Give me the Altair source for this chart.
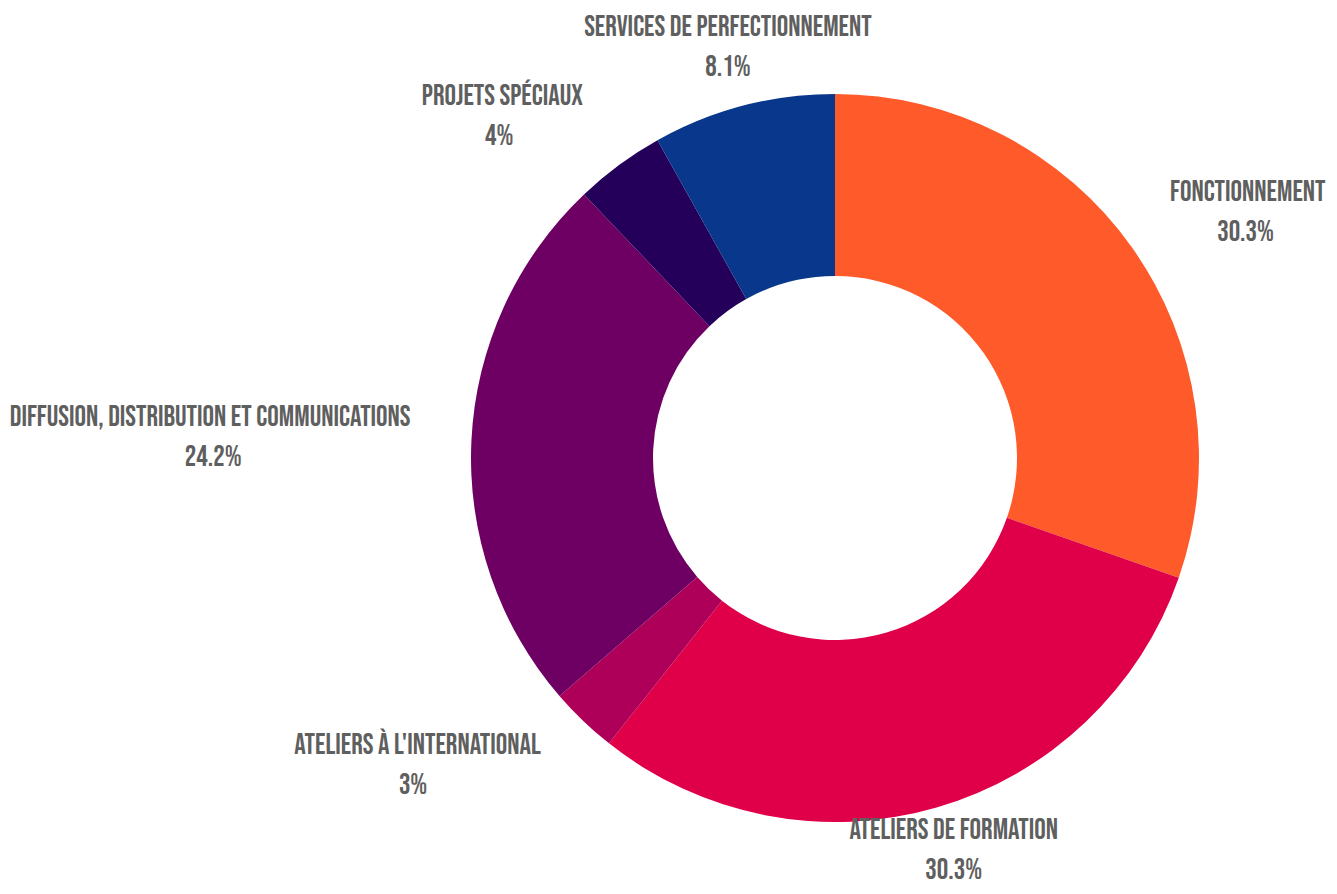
import altair as alt
import pandas as pd

labels = ["FONCTIONNEMENT", "ATELIERS DE FORMATION", "ATELIERS À L'INTERNATIONAL",
          "DIFFUSION, DISTRIBUTION ET COMMUNICATIONS", "PROJETS SPÉCIAUX",
          "SERVICES DE PERFECTIONNEMENT"]
values = [30.3, 30.3, 3, 24.2, 4, 8.1]
pct_labels = ["30.3%", "30.3%", "3%", "24.2%", "4%", "8.1%"]
colors = ["#FF5A2A", "#E0004A", "#AE0058", "#6E0064", "#25005A", "#08378C"]

df = pd.DataFrame({
    "label": labels,
    "value": values,
    "pct": pct_labels,
    "order": list(range(len(labels))),
})

W, H = 1321, 878
CX, CY = 827, 450
R_OUT, R_IN, R_LAB = 364, 182, 425
FONT = "'Bebas Neue', 'Oswald', sans-serif"
FS = 28.7
TXT = "#5f5f5f"
XMAX = W - CX - 8          # right limit for labels (keep inside the view)
YMIN = -(H - CY) + 36      # lowest label-block anchor so the 2nd line stays visible

xs = alt.Scale(domain=[-CX, W - CX], nice=False, zero=False)
ys = alt.Scale(domain=[-(H - CY), CY], nice=False, zero=False)

base = alt.Chart(df)

arc = base.mark_arc(radius=R_OUT, radius2=R_IN).encode(
    theta=alt.Theta("value:Q", stack=True),
    order=alt.Order("order:Q"),
    color=alt.Color("label:N", scale=alt.Scale(domain=labels, range=colors), legend=None),
    x=alt.X(datum=0, scale=xs, axis=None),
    y=alt.Y(datum=0, scale=ys, axis=None),
)

# label anchor on a circle around the donut, at each slice's mid-angle
pos = base.transform_joinaggregate(
    total="sum(value)"
).transform_window(
    cum="sum(value)", sort=[alt.SortField("order")], frame=[None, 0]
).transform_calculate(
    mid="2*PI*(datum.cum - datum.value/2)/datum.total",
    nI="length(replace(datum.label, regexp('[^IÎ]', 'g'), ''))",
    nS="length(replace(datum.label, regexp('[^ ,\\'.]', 'g'), ''))",
).transform_calculate(
    side="abs(sin(datum.mid)) > 0.5 ? (sin(datum.mid) > 0 ? 1 : -1) : 0",
    w=f"{FS}*(0.39*(length(datum.label) - datum.nI - datum.nS) + 0.19*datum.nI + 0.18*datum.nS)",
).transform_calculate(
    ax0=f"{R_LAB}*sin(datum.mid)",
    ay=f"max({R_LAB}*cos(datum.mid), {YMIN})",
).transform_calculate(
    ax=f"datum.side == 1 ? min(datum.ax0, {XMAX} - datum.w) : datum.ax0",
).transform_calculate(
    px="datum.ax + datum.side*datum.w/2",
)

layers = [arc]
for side, align in [(1, "left"), (0, "center"), (-1, "right")]:
    layers.append(
        pos.transform_filter(f"datum.side == {side}").mark_text(
            font=FONT, fontSize=FS, fontWeight="normal", color=TXT,
            align=align, baseline="middle", dy=-20
        ).encode(
            x=alt.X("ax:Q", scale=xs, axis=None),
            y=alt.Y("ay:Q", scale=ys, axis=None),
            text="label:N",
        )
    )

pcts = pos.mark_text(font=FONT, fontSize=FS, fontWeight="normal", color=TXT,
                     align="center", baseline="middle", dy=20).encode(
    x=alt.X("px:Q", scale=xs, axis=None),
    y=alt.Y("ay:Q", scale=ys, axis=None),
    text="pct:N",
)
layers.append(pcts)

chart = alt.layer(*layers).properties(
    width=W, height=H, padding=0, autosize="none"
).configure_view(stroke=None)

chart.save("out.html", embed_options={"renderer": "svg", "actions": False})
